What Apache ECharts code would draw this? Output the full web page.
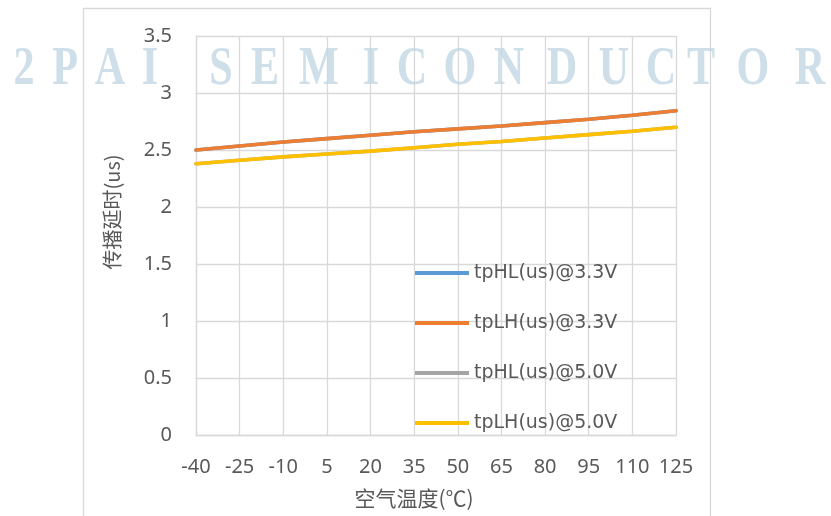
<!DOCTYPE html>
<html>
<head>
<meta charset="utf-8">
<script src="https://cdn.jsdelivr.net/npm/echarts@6/dist/echarts.min.js"></script>
<style>
html,body{margin:0;padding:0;background:#fff;}
#chart{width:831px;height:516px;}
</style>
</head>
<body>
<div id="chart"></div>
<script>
const temperatures = ['-40','-25','-10','5','20','35','50','65','80','95','110','125'];
const tpHL33 = [2.50, 2.535, 2.57, 2.60, 2.63, 2.66, 2.685, 2.71, 2.74, 2.77, 2.805, 2.845];
const tpLH33 = [2.50, 2.535, 2.57, 2.60, 2.63, 2.66, 2.685, 2.71, 2.74, 2.77, 2.805, 2.845];
const tpHL50 = [2.38, 2.41, 2.44, 2.465, 2.49, 2.52, 2.55, 2.575, 2.605, 2.635, 2.665, 2.70];
const tpLH50 = [2.38, 2.41, 2.44, 2.465, 2.49, 2.52, 2.55, 2.575, 2.605, 2.635, 2.665, 2.70];
const seriesNames = ['tpHL(us)@3.3V', 'tpLH(us)@3.3V', 'tpHL(us)@5.0V', 'tpLH(us)@5.0V'];
const seriesColors = ['#5b9bd5', '#ed7d31', '#a5a5a5', '#ffc000'];
const yTicks = { min: 0, max: 3.5, interval: 0.5 };
const xAxisTitle = '空气温度(℃)';
const yAxisTitle = '传播延时(us)';
const watermarkLetters = ['2','P','A','I','S','E','M','I','C','O','N','D','U','C','T','O','R'];
const watermarkCenters = [24,65,110,150,221,265,319,371,412,460,509,562,614,661,701,753,810];

const chart = echarts.init(document.getElementById('chart'), null, {renderer: 'canvas'});
const dataSets = [tpHL33, tpLH33, tpHL50, tpLH50];
const gridColor = '#d9d9d9';
const textColor = '#595959';

const graphics = [
  {
    type: 'rect', silent: true, z: -10,
    shape: {x: 83.5, y: 8.5, width: 627, height: 530},
    style: {fill: 'none', stroke: gridColor, lineWidth: 1.3}
  },
  {
    type: 'text', silent: true,
    x: 112, y: 212, rotation: Math.PI / 2,
    style: {text: yAxisTitle, fill: textColor, font: '20px "Noto Sans CJK SC", "Noto Sans", sans-serif', align: 'center', verticalAlign: 'middle'}
  },
  {
    type: 'text', silent: true,
    x: 414, y: 498,
    style: {text: xAxisTitle, fill: textColor, font: '21px "Noto Sans CJK SC", "Noto Sans", sans-serif', align: 'center', verticalAlign: 'middle'}
  }
];
watermarkLetters.forEach((ch, i) => {
  graphics.push({
    type: 'text', silent: true, z: 100,
    x: watermarkCenters[i], y: 70, scaleX: 0.78,
    style: {text: ch, fill: 'rgba(190,212,226,0.75)', font: 'bold 54px "Liberation Serif", "DejaVu Serif", serif', align: 'center', verticalAlign: 'middle'}
  });
});

chart.setOption({
  backgroundColor: '#fff',
  animation: false,
  grid: {left: 196, top: 36, width: 480, height: 399, containLabel: false},
  legend: {
    orient: 'vertical',
    left: 415, top: 263,
    padding: 0,
    itemGap: 30,
    itemWidth: 54, itemHeight: 4,
    icon: 'rect',
    textStyle: {color: textColor, fontSize: 19, fontFamily: '"DejaVu Sans", sans-serif', lineHeight: 20},
    data: seriesNames
  },
  xAxis: {
    type: 'category',
    data: temperatures,
    boundaryGap: false,
    axisLine: {show: true, lineStyle: {color: gridColor, width: 1.3}},
    axisTick: {show: false},
    axisLabel: {color: textColor, fontSize: 20, margin: 22, fontFamily: '"Noto Sans", sans-serif', interval: 0},
    splitLine: {show: true, lineStyle: {color: gridColor, width: 1.3}}
  },
  yAxis: {
    type: 'value',
    min: yTicks.min, max: yTicks.max, interval: yTicks.interval,
    axisLine: {show: true, lineStyle: {color: gridColor, width: 1.3}},
    axisTick: {show: false},
    axisLabel: {color: textColor, fontSize: 20, margin: 24, fontFamily: '"Noto Sans", sans-serif'},
    splitLine: {show: true, lineStyle: {color: gridColor, width: 1.3}}
  },
  series: dataSets.map((d, i) => ({
    name: seriesNames[i],
    type: 'line',
    data: d,
    showSymbol: false,
    symbol: 'none',
    color: seriesColors[i],
    lineStyle: {width: 3.6, color: seriesColors[i], cap: 'round'},
    z: 2 + i
  })),
  graphic: graphics
});
</script>
</body>
</html>
